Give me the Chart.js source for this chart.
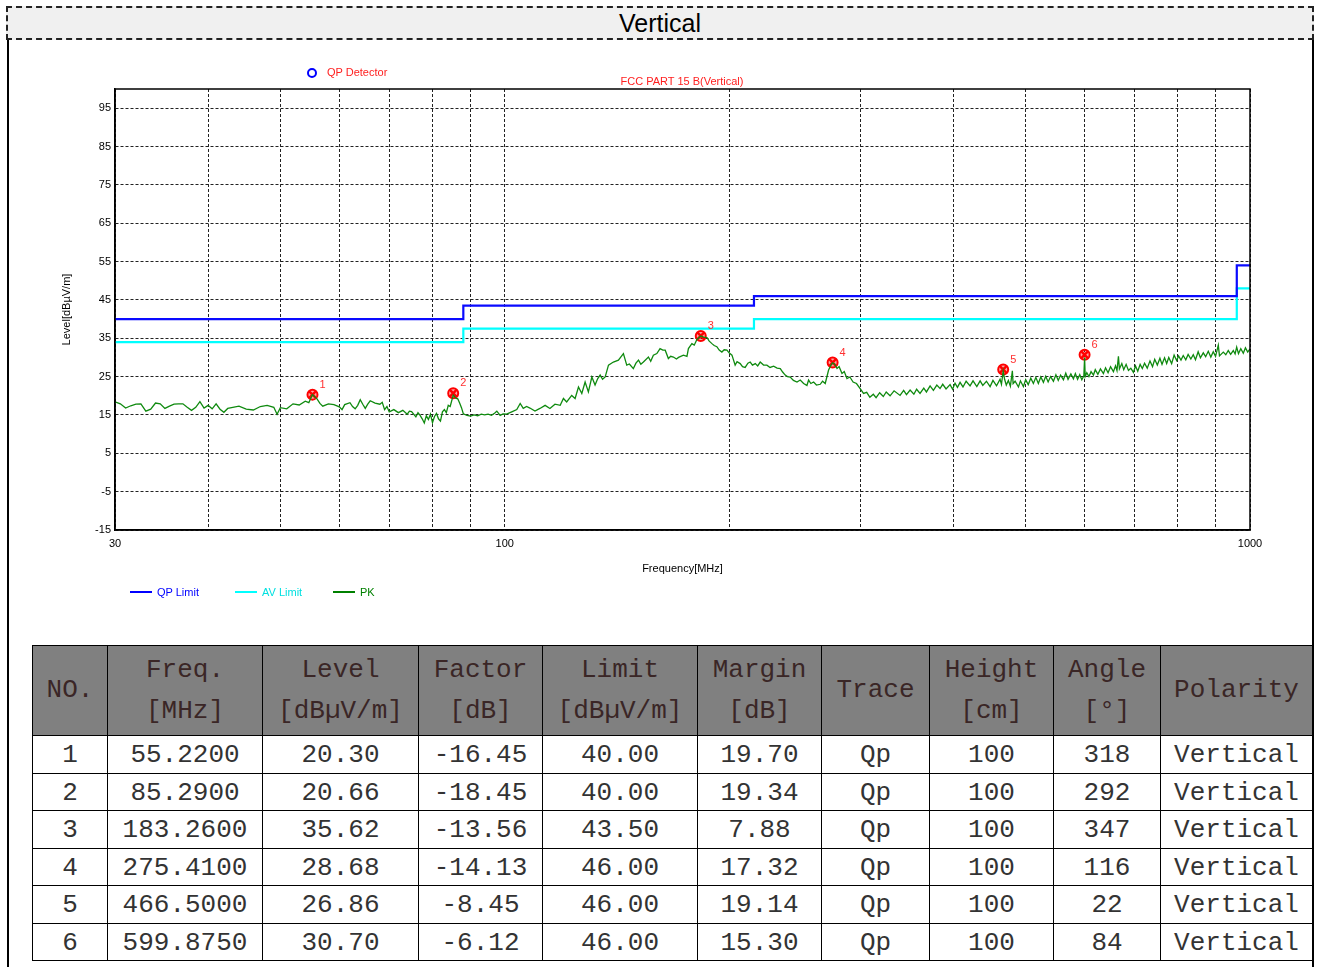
<!DOCTYPE html>
<html>
<head>
<meta charset="utf-8">
<script src="https://cdn.jsdelivr.net/npm/chart.js@4/dist/chart.umd.min.js"></script>
<style>
html,body{margin:0;padding:0;background:#fff;width:1324px;height:967px;overflow:hidden;font-family:"Liberation Sans",Arial,sans-serif;}
#title{position:absolute;left:6px;top:6px;width:1304px;height:30px;background:#f0f0f0;border:2px dashed #222;text-align:center;font-size:25px;line-height:31px;color:#000;}
#frameL{position:absolute;left:7px;top:40px;width:2px;height:927px;background:#000;}
#frameR{position:absolute;left:1312px;top:40px;width:2px;height:927px;background:#000;}
#chartBox{position:absolute;left:8px;top:40px;width:1305px;height:575px;}
.lg{position:absolute;font-size:11px;line-height:13px;white-space:nowrap;}
.sw{position:absolute;height:2px;width:22px;}
#qpdot{position:absolute;left:307px;top:68px;width:6px;height:6px;border:2px solid #0000ff;border-radius:50%;}
table{position:absolute;left:32px;top:645px;border-collapse:collapse;font-family:"Liberation Mono","DejaVu Sans Mono",monospace;font-size:26px;color:#333;}
td,th{border:1px solid #000;padding:0;text-align:center;white-space:nowrap;font-weight:normal;}
th{background:#808080;color:#3a2626;height:89px;line-height:41px;}
td{height:34.5px;line-height:34px;padding-top:2px;}
</style>
</head>
<body>
<div id="title">Vertical</div>
<div id="frameL"></div>
<div id="frameR"></div>
<div id="chartBox"><canvas id="c" width="1305" height="575"></canvas></div>
<div id="qpdot"></div>
<div class="lg" style="left:327px;top:66px;color:#ff2020;">QP Detector</div>
<div class="lg" style="left:482px;width:400px;text-align:center;top:75px;color:#ff2020;">FCC PART 15 B(Vertical)</div>
<div class="sw" style="left:130px;top:591px;background:#0000ff;"></div>
<div class="lg" style="left:157px;top:586px;color:#0000ff;">QP Limit</div>
<div class="sw" style="left:235px;top:591px;background:#00ffff;"></div>
<div class="lg" style="left:262px;top:586px;color:#00e0e0;">AV Limit</div>
<div class="sw" style="left:333px;top:591px;background:#008000;"></div>
<div class="lg" style="left:360px;top:586px;color:#008000;">PK</div>
<table id="tbl"></table>
<script>
// ---------- data ----------
const limitFreq = [30, 88, 88, 216, 216, 960, 960, 1000];
const qpLimit   = [40, 40, 43.5, 43.5, 46, 46, 54, 54];
const avLimit   = [34, 34, 37.5, 37.5, 40, 40, 48, 48];

const pkFreq = [
 30,30.5,31,31.5,32,32.5,33,33.5,34,34.5,35,35.5,36,36.5,37,37.5,38,38.5,39,39.5,
 40,40.5,41,41.5,42,42.5,43,44,45,46,47,48,49,49.5,50,51,52,53,54,54.6,
 55.2,56,56.5,57,58,59,60,60.5,61,62,62.5,63,63.5,64,64.5,65,65.5,66,67,68,
 68.5,69,69.5,70,71,72,73,74,74.5,75,76,76.5,77,77.5,78,78.5,79,79.5,80,80.5,
 81,81.5,82,82.5,83,83.5,84,84.5,85.3,86,86.5,87,87.5,88,89,90,91,92,93,94,
 95,96,97,97.6,98.6,99.5,100.6,102.2,103.8,104.9,105.9,107,108.1,109.8,111.5,113.3,115,116.8,118.7,119.9,
 121.1,123,124.3,125.6,126.9,128.2,129.5,130.9,132.2,133.3,134.3,135.3,136.4,137.8,139.9,142.1,144.3,145.8,147,148.8,
 150,151.2,152.3,153.5,155.9,157,158.3,160,161.6,163,164.2,165.8,167,168.4,170,171.1,173.7,175.6,176.4,178.3,
 179.6,181.1,183.3,184.8,186.8,188,189.7,191,192.6,194,195.6,197,198.7,200,201.8,203.8,205,207,208.5,210.2,
 212,213.5,215,216.9,218.5,220.2,222.5,224.8,227,229.5,232,234.3,236,237.9,239.5,241.6,244,246.7,249.2,251.8,
 254.4,255.7,257.5,259.7,262,265.1,267,269.2,272,274,275.4,277,279.2,281,283.5,285.5,287.9,290.5,293.4,296.5,
 299.7,303,306,309,312.3,315,318.5,322.1,325,328.9,333,339.2,343,346,349.9,354,357,360.8,365,368,
 372.2,376,380,383.8,387,391,395.9,399,402,405,408.3,412,416,421.1,425,430,434.4,438,443,448,
 452,457,462,464,466.5,468.5,471,474,477,479.9,481,484,489,492,496.5,500,504,508,512.1,516,
 520,524,528.2,532,536,540,544.8,549,553,557,561.9,566,570,575,579.5,583,587,591,594.8,598.5,
 599.9,601,604,608,612,616.5,620,625,630,635.8,640,645,650,655.8,660,663,666,668,673,677,
 682,686.9,692,697.6,702,707,712.2,717,722,728,734.2,740,745,751,757.1,762,768,773,778,785,
 791,797.2,802,808,813.6,820,826,833,839.2,845,852,858,865.6,872,879,886,892.7,899,906.7,910,
 920.8,928,935,942,949.7,955,959.7,965,972,979.5,986,993,1000
];
const pkLevel = [
 18.4,17.9,16.8,17.4,17.8,17.9,16.0,16.5,18.1,17.9,16.7,17.3,17.8,17.9,17.9,17.0,16.2,17.0,18.5,16.8,
 17.5,16.6,17.9,16.5,15.7,16.7,16.9,17.3,16.5,16.3,17.2,17.5,17.0,15.2,16.9,16.6,17.9,17.6,18.6,18.2,
 20.3,19.2,18.0,17.3,17.9,17.7,17.1,16.4,17.7,18.2,17.2,16.6,17.5,19.0,17.8,16.7,17.8,18.7,18.1,17.8,
 18.3,16.4,17.2,15.8,16.4,15.6,16.2,15.2,16.0,15.9,14.5,15.6,14.9,14.0,12.9,14.8,13.8,15.2,13.0,14.6,
 15.4,14.0,13.4,15.8,16.4,15.6,17.5,17.2,20.2,19.4,19.2,18.1,16.9,15.3,14.9,14.7,15.0,14.8,15.2,15.0,
 15.2,14.9,15.5,16.0,14.9,15.3,15.2,15.8,16.4,18.0,16.7,17.2,16.8,16.0,16.7,17.5,16.7,17.8,17.5,19.3,
 18.4,20.1,19.3,22.3,20.6,23.6,21.0,24.9,22.8,24.5,25.4,24.3,24.9,28.0,28.8,29.3,31.0,28.0,28.3,27.1,
 28.5,29.3,28.2,28.8,30.1,29.0,30.6,31.0,32.3,31.9,31.9,29.7,30.3,30.1,29.6,30.0,30.6,30.3,32.3,33.6,
 33.2,34.7,35.6,35.3,35.2,34.3,33.6,33.1,32.8,31.9,31.4,32.0,31.9,31.2,30.6,28.0,28.9,28.4,27.6,27.4,
 28.5,28.8,28.0,28.4,27.8,28.8,28.0,28.0,27.4,27.7,27.2,27.1,26.2,25.4,25.0,24.9,24.0,23.6,24.1,23.2,
 22.7,24.1,23.2,23.6,22.8,23.0,23.8,23.2,26.7,28.0,28.6,28.3,27.1,27.6,25.8,26.3,24.5,24.9,23.6,23.2,
 21.9,20.6,20.9,19.6,20.4,19.5,20.8,19.8,21.0,20.0,21.3,20.1,21.4,20.3,21.5,20.4,21.7,20.6,22.0,21.0,
 22.6,21.4,22.8,21.9,23.0,21.8,22.9,21.7,23.3,22.2,23.5,22.3,23.8,22.6,23.9,22.4,23.9,22.7,23.8,22.4,
 24.0,22.6,24.3,23.0,26.5,24.3,22.8,24.0,22.5,26.5,23.2,23.8,22.3,23.9,22.4,24.2,22.9,24.6,23.2,24.8,
 23.2,24.9,23.5,25.1,23.6,25.0,23.8,25.5,24.0,25.4,24.2,25.9,24.3,25.7,24.4,25.8,24.3,25.5,24.2,25.2,
 30.0,25.0,26.0,25.0,26.3,25.4,26.8,25.6,27.0,25.8,27.3,26.0,27.6,26.3,27.8,26.6,30.3,27.0,28.4,26.8,
 28.2,26.6,27.2,26.1,27.8,26.4,28.2,27.1,28.5,27.2,29.1,27.6,29.5,28.0,29.8,28.2,29.9,28.4,30.0,28.4,
 30.6,29.2,30.4,29.3,30.5,29.4,30.8,29.6,30.7,29.4,31.5,29.9,31.2,30.2,31.6,30.1,31.5,30.3,33.2,30.4,
 31.4,30.7,31.8,30.8,31.8,30.9,32.7,31.0,32.3,31.1,32.5,31.4,32.2
];

const markerNo    = [1, 2, 3, 4, 5, 6];
const markerFreq  = [55.22, 85.29, 183.26, 275.41, 466.5, 599.875];
const markerLevel = [20.30, 20.66, 35.62, 28.68, 26.86, 30.70];
const factorDb    = [-16.45, -18.45, -13.56, -14.13, -8.45, -6.12];
const limitDb     = [40.00, 40.00, 43.50, 46.00, 46.00, 46.00];
const marginDb    = [19.70, 19.34, 7.88, 17.32, 19.14, 15.30];
const traceName   = ['Qp', 'Qp', 'Qp', 'Qp', 'Qp', 'Qp'];
const heightCm    = [100, 100, 100, 100, 100, 100];
const angleDeg    = [318, 292, 347, 116, 22, 84];
const polarity    = ['Vertical', 'Vertical', 'Vertical', 'Vertical', 'Vertical', 'Vertical'];

const yTicks  = [-15, -5, 5, 15, 25, 35, 45, 55, 65, 75, 85, 95];
const xGrid   = [30, 40, 50, 60, 70, 80, 90, 100, 200, 300, 400, 500, 600, 700, 800, 900, 1000];
const xLabels = [30, 100, 1000];

const headers = [['NO.'], ['Freq.', '[MHz]'], ['Level', '[dBµV/m]'], ['Factor', '[dB]'], ['Limit', '[dBµV/m]'],
                 ['Margin', '[dB]'], ['Trace'], ['Height', '[cm]'], ['Angle', '[°]'], ['Polarity']];
const colWidths = [75, 155, 156, 124, 155, 124, 108, 124, 107, 152];

// ---------- table ----------
(function(){
  const t = document.getElementById('tbl');
  let html = '<colgroup>' + colWidths.map(w => '<col style="width:' + w + 'px">').join('') + '</colgroup>';
  html += '<tr>' + headers.map(h => '<th>' + h.join('<br>') + '</th>').join('') + '</tr>';
  for (let i = 0; i < markerNo.length; i++) {
    const cells = [markerNo[i], markerFreq[i].toFixed(4), markerLevel[i].toFixed(2), factorDb[i].toFixed(2),
      limitDb[i].toFixed(2), marginDb[i].toFixed(2), traceName[i], heightCm[i], angleDeg[i], polarity[i]];
    html += '<tr>' + cells.map(c => '<td>' + c + '</td>').join('') + '</tr>';
  }
  t.innerHTML = html;
})();

// ---------- chart ----------
const FONT = '"Liberation Sans", Arial, sans-serif';
const xy = (xs, ys) => xs.map((x, i) => ({x: x, y: ys[i]}));
const markerPts = xy(markerFreq, markerLevel);

const framePlugin = {
  id: 'frame',
  afterDatasetsDraw(chart) {
    const {ctx, scales} = chart;
    ctx.save();
    ctx.fillStyle = '#ff3030';
    ctx.font = '11px ' + FONT;
    ctx.textAlign = 'center';
    ctx.textBaseline = 'middle';
    markerNo.forEach((n, i) => {
      const px = scales.x.getPixelForValue(markerFreq[i]);
      const py = scales.y.getPixelForValue(markerLevel[i]);
      ctx.fillText(String(n), px + 10, py - 10);
    });
    ctx.restore();
  },
  afterDraw(chart) {
    const {ctx, chartArea: a} = chart;
    ctx.save();
    ctx.strokeStyle = '#000';
    ctx.lineWidth = 1.5;
    ctx.setLineDash([]);
    ctx.strokeRect(a.left, a.top, a.right - a.left, a.bottom - a.top);
    ctx.restore();
  }
};

new Chart(document.getElementById('c'), {
  type: 'line',
  data: {
    datasets: [
      {label: 'QP Limit', data: xy(limitFreq, qpLimit), borderColor: '#0a0aff', borderWidth: 2.2, pointRadius: 0, tension: 0},
      {label: 'AV Limit', data: xy(limitFreq, avLimit), borderColor: '#00ffff', borderWidth: 2.2, pointRadius: 0, tension: 0},
      {label: 'PK', data: xy(pkFreq, pkLevel), borderColor: '#0f8a0f', borderWidth: 1.3, pointRadius: 0, tension: 0},
      {label: 'QP marker ring', data: markerPts, showLine: false, pointStyle: 'circle', pointRadius: 5,
       pointBorderColor: '#ff0000', pointBackgroundColor: 'rgba(255,0,0,0.35)', pointBorderWidth: 2},
      {label: 'QP marker cross', data: markerPts, showLine: false, pointStyle: 'crossRot', pointRadius: 5,
       pointBorderColor: '#ff0000', pointBorderWidth: 2.5}
    ]
  },
  options: {
    responsive: false,
    animation: false,
    devicePixelRatio: 1,
    events: [],
    layout: {padding: {left: 0, top: 49, right: 63, bottom: 35}},
    plugins: {legend: {display: false}, tooltip: {enabled: false}, title: {display: false}},
    scales: {
      x: {
        type: 'logarithmic', min: 30, max: 1000,
        afterBuildTicks: s => { s.ticks = xGrid.map(v => ({value: v})); },
        afterFit: s => { s.height = 50; },
        ticks: {autoSkip: false, maxRotation: 0, minRotation: 0, padding: 7, color: '#000',
                font: {family: FONT, size: 11},
                callback: v => xLabels.includes(v) ? String(v) : ''},
        grid: {color: '#222', lineWidth: 1, drawTicks: false},
        border: {display: true, color: '#000', width: 1.5, dash: [3, 2]},
        title: {display: true, text: 'Frequency[MHz]', color: '#000',
                font: {family: FONT, size: 11}, padding: {top: 0, bottom: 4}}
      },
      y: {
        type: 'linear', min: -15, max: 100,
        afterBuildTicks: s => { s.ticks = yTicks.map(v => ({value: v})); },
        afterFit: s => { s.width = 107; },
        ticks: {padding: 4, color: '#000', font: {family: FONT, size: 11}},
        grid: {color: '#222', lineWidth: 1, drawTicks: false},
        border: {display: true, color: '#000', width: 1.5, dash: [3, 2]},
        title: {display: true, text: 'Level[dBµV/m]', color: '#000',
                font: {family: FONT, size: 11}, padding: {top: 52, bottom: 0}}
      }
    }
  },
  plugins: [framePlugin]
});
</script>
</body>
</html>
